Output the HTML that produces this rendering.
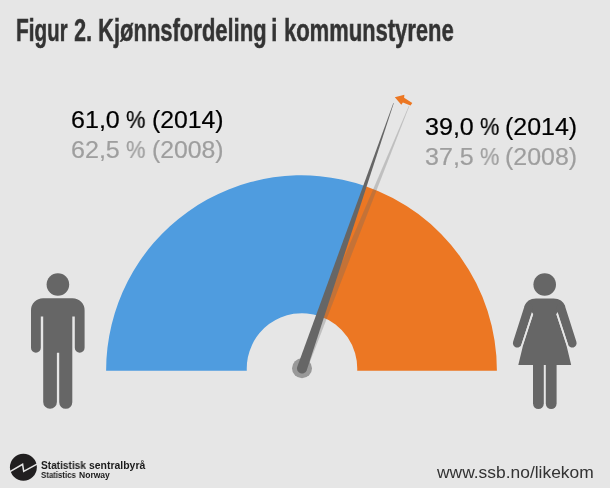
<!DOCTYPE html>
<html><head><meta charset="utf-8">
<style>
html,body{margin:0;padding:0;}
body{width:610px;height:488px;background:#e6e6e6;overflow:hidden;position:relative;font-family:"Liberation Sans",sans-serif;}
svg{position:absolute;left:0;top:0;}
#title{position:absolute;left:0;top:12.3px;font-size:31.8px;font-weight:bold;color:#333;-webkit-text-stroke:0.5px #333;white-space:nowrap;line-height:37px;}
#title span{position:absolute;top:0;left:0;transform-origin:0 0;will-change:transform;}
.lbl{position:absolute;left:0;white-space:nowrap;font-size:23px;line-height:26px;}
.lbl span{position:absolute;top:0;left:0;transform-origin:0 0;will-change:transform;}
.k{color:#000;-webkit-text-stroke:0.2px #000;}
.g{color:#9e9e9e;-webkit-text-stroke:0.2px #9e9e9e;}
#url{will-change:transform;position:absolute;left:436.5px;top:462.8px;font-size:17px;line-height:20px;transform:scaleX(1.024);color:#333;white-space:nowrap;transform-origin:0 0;}
#l1{position:absolute;left:0;top:460.2px;font-size:10.2px;line-height:12px;font-weight:bold;color:#1a1a1a;white-space:nowrap;}
#l2{position:absolute;left:0;top:471.3px;font-size:8.2px;line-height:10px;font-weight:bold;color:#1a1a1a;white-space:nowrap;}
#l1 span,#l2 span{position:absolute;top:0;left:0;transform-origin:0 0;will-change:transform;}
</style></head><body>
<svg width="610" height="488" viewBox="0 0 610 488">
<!-- blue -->
<path d="M106.1 370.7 A195.4 195.4 0 0 1 365 185.9 L320 316.2 A55.25 55.25 0 0 0 246.8 370.7 Z" fill="#4f9cdf"/>
<path d="M496.9 370.7 A195.4 195.4 0 0 0 365 185.9 L320 316.2 A55.25 55.25 0 0 1 357.2 370.7 Z" fill="#ec7723"/>
<!-- light needle -->
<path d="M297.37 366.61 L408.77 106 L409.23 106.2 L306.63 370.39 Z" fill="#666" fill-opacity="0.3"/>
<circle cx="302" cy="368.3" r="10" fill="#999"/>
<path d="M297.27 366.87 L393.36 102.92 L393.84 103.08 L306.73 370.13 A5 5 0 0 1 297.27 366.87 Z" fill="#666"/>
<!-- arrow -->
<path d="M394.8 97.3 L404.4 94.8 L404.1 97.8 L412.3 102.9 L410.5 105.6 L402.9 102.5 L401.3 104.7 Z" fill="#ec7723"/>
<!-- man -->
<g fill="#666">
<circle cx="57.9" cy="284.5" r="11.3"/>
<path d="M43 298.2 H72.6 A12 12 0 0 1 84.6 310.2 V347.8 A4.9 4.9 0 0 1 74.8 347.8 V316.5 H72.3 V402.3 A6.55 6.55 0 0 1 59.2 402.3 V352.7 H56.9 V402 A6.85 6.85 0 0 1 43.2 402 V316.5 H40.8 V347.8 A4.9 4.9 0 0 1 31 347.8 V310.2 A12 12 0 0 1 43 298.2 Z"/>
</g>
<!-- woman -->
<g fill="#666">
<circle cx="544.7" cy="284.5" r="11.3"/>
<path d="M536 298.4 H553.5 Q562.5 298.4 565.3 306.4 L560.85 307.7 L556.3 313.9 L566.5 345.6 L571.2 365.1 H518.3 L523 345.6 L533.2 313.9 L528.65 307.7 L524.3 306.4 Q527 298.4 536 298.4 Z"/>
<path d="M528.65 307.7 L517.3 343.2 M560.85 307.7 L572.2 343.2" stroke="#666" stroke-width="8.8" stroke-linecap="round" fill="none"/>
<path d="M532.4 313.9 L521.9 345.6 M557.1 313.9 L567.6 345.6" stroke="#e6e6e6" stroke-width="1.6" fill="none"/>
<path d="M533 365 H543.8 V403.6 A5.4 5.4 0 0 1 533 403.6 Z"/>
<path d="M545.8 365 H556.6 V403.6 A5.4 5.4 0 0 1 545.8 403.6 Z"/>
</g>
<!-- logo -->
<circle cx="23.4" cy="467.3" r="13.45" fill="#211f20"/>
<path d="M10 471.6 L22.6 464.3 L23.7 471.4 L37 464.1" stroke="#e6e6e6" stroke-width="1.5" fill="none" stroke-linejoin="miter"/>
</svg>
<div id="title"><span style="left:16.39px;transform:scaleX(0.6517)">Figur</span><span style="left:74.41px;transform:scaleX(0.6755)">2.</span><span style="left:98.32px;transform:scaleX(0.6919)">Kjønnsfordeling</span><span style="left:270.97px;transform:scaleX(0.7233)">i</span><span style="left:283.82px;transform:scaleX(0.6911)">kommunstyrene</span></div>
<div class="lbl k" style="top:107.2px;"><span style="left:71.3px;transform:scaleX(1.09)">61,0</span><span style="left:126.05px;transform:scaleX(0.953)">%</span><span style="left:151.9px;transform:scaleX(1.077)">(2014)</span></div>
<div class="lbl g" style="top:137.1px;"><span style="left:71.3px;transform:scaleX(1.09)">62,5</span><span style="left:126.05px;transform:scaleX(0.953)">%</span><span style="left:151.9px;transform:scaleX(1.077)">(2008)</span></div>
<div class="lbl k" style="top:114.3px;"><span style="left:424.8px;transform:scaleX(1.09)">39,0</span><span style="left:479.55px;transform:scaleX(0.947)">%</span><span style="left:505.4px;transform:scaleX(1.084)">(2014)</span></div>
<div class="lbl g" style="top:144.1px;"><span style="left:424.8px;transform:scaleX(1.09)">37,5</span><span style="left:479.55px;transform:scaleX(0.947)">%</span><span style="left:505.4px;transform:scaleX(1.084)">(2008)</span></div>
<div id="url">www.ssb.no/likekom</div>
<div id="l1"><span style="left:41.1px;transform:scaleX(0.989)">Statistisk</span><span style="left:88.6px;transform:scaleX(1.024)">sentralbyrå</span></div>
<div id="l2"><span style="left:41.2px;transform:scaleX(0.96)">Statistics</span><span style="left:78.55px;transform:scaleX(1.044)">Norway</span></div>
</body></html>
